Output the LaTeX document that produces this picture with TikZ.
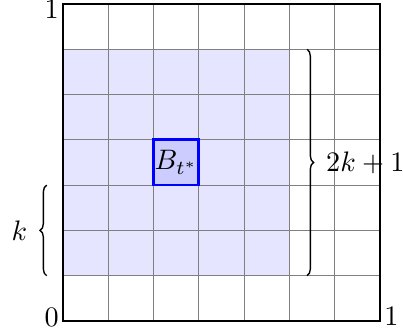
\documentclass[tikz,border=0pt]{standalone}
\usetikzlibrary{decorations.pathreplacing}
\begin{document}
\begin{tikzpicture}[x=14.944pt,y=14.944pt,
  gridline/.style={gray,line width=0.35pt},
  region/.style={fill=blue!10,draw=none},
  cellbox/.style={fill=blue!20,draw=blue,line width=0.9pt},
  bracedec/.style={decorate,decoration={brace,amplitude=2.2pt},line width=0.45pt},
  lbl/.style={inner sep=0pt,scale=0.93}]
\useasboundingbox (-1.391,-0.287) rectangle (7.508,7.088);
\fill[region] (0,1) rectangle (5,6);
\foreach \i in {1,...,6} {
  \draw[gridline] (\i,0) -- (\i,7);
  \draw[gridline] (0,\i) -- (7,\i);
}
\draw[cellbox] (2,3) rectangle (3,4);
\node[lbl] (bt) at (2.5,3.5) {$B_{t^*}$};
\draw[line width=0.5pt] (0,0) rectangle (7,7);
\node[lbl] (one1) at (-0.25,6.87) {$1$};
\node[lbl] (zero) at (-0.25,0.088) {$0$};
\node[lbl] (one2) at (7.254,0.099) {$1$};
\coordinate (rbtop) at (5.388,6);
\coordinate (rbbot) at (5.388,1);
\draw[bracedec] (rbtop) -- (rbbot);
\node[lbl,anchor=west] (twok) at (5.8,3.489) {$2k+1$};
\coordinate (lbbot) at (-0.36,1);
\coordinate (lbtop) at (-0.36,3);
\draw[bracedec] (lbbot) -- (lbtop);
\node[lbl] (k) at (-0.961,1.987) {$k$};
\end{tikzpicture}
\end{document}
